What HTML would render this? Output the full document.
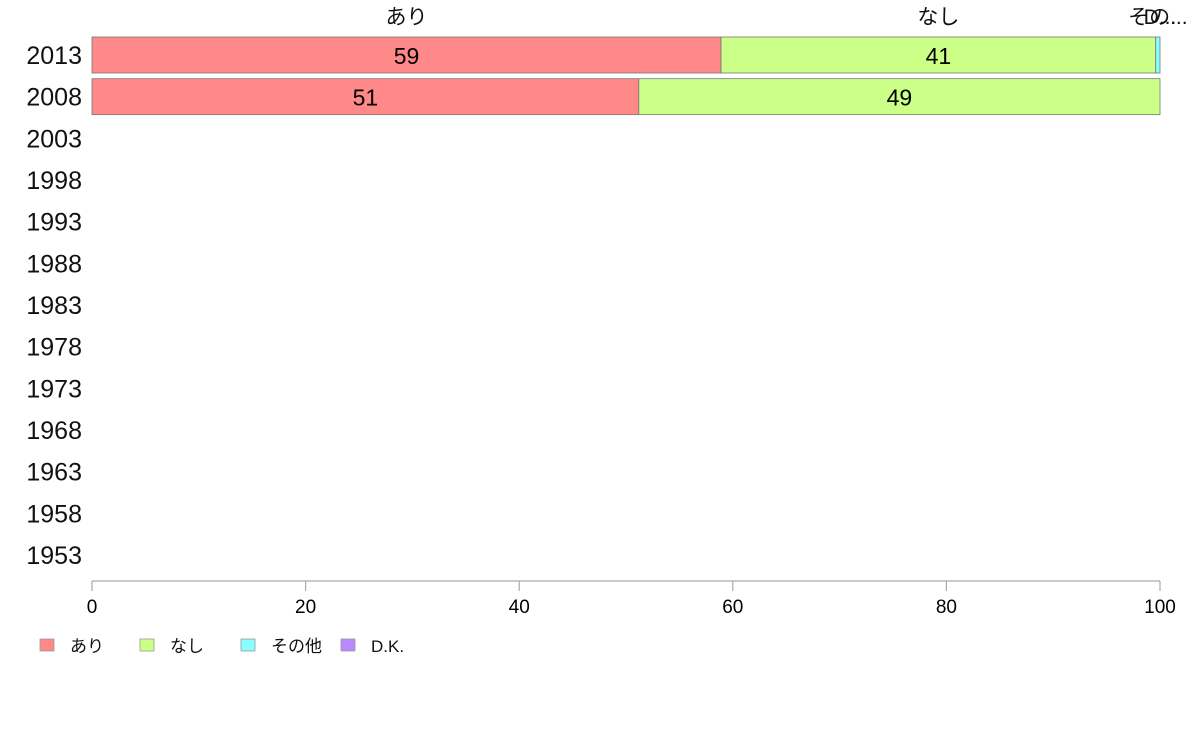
<!DOCTYPE html>
<html><head><meta charset="utf-8"><style>
body{margin:0;background:#fff;}
svg{font-family:"Liberation Sans","Noto Sans CJK JP",sans-serif;}
</style></head><body>
<svg width="1188" height="736">
<g id="plot"></g>
</svg>
<script>
const years=["2013","2008","2003","1998","1993","1988","1983","1978","1973","1968","1963","1958","1953"];
const seriesNames=["あり","なし","その他","D.K."];
const seriesColors=["#ff8888","#ccff88","#88ffff","#bb88ff"];
const aari=[58.9,51.2,null,null,null,null,null,null,null,null,null,null,null];
const nashi=[40.7,48.8,null,null,null,null,null,null,null,null,null,null,null];
const sonota=[0.4,0,null,null,null,null,null,null,null,null,null,null,null];
const dk=[0,0,null,null,null,null,null,null,null,null,null,null,null];
const xTicks=[0,20,40,60,80,100];
const series=[aari,nashi,sonota,dk];
const NS="http://www.w3.org/2000/svg";
const g=document.getElementById('plot');
const x=v=>92+v*10.68;
const y=i=>55+i*41.67;
function mk(t,a,txt){const e=document.createElementNS(NS,t);for(const k in a)e.setAttribute(k,a[k]);if(txt!==undefined)e.textContent=txt;g.appendChild(e);return e;}
// year labels
years.forEach((yr,i)=>{const e=mk('text',{x:82,y:y(i)+9,'text-anchor':'end','font-size':25,fill:'#111'},yr);

});
// bars
years.forEach((yr,i)=>{let c=0;series.forEach((s,k)=>{const v=s[i];if(v==null)return;
if(v>0){const r=mk('rect',{x:x(c),y:y(i)-18,width:x(c+v)-x(c),height:36,fill:seriesColors[k],stroke:'#777','stroke-width':0.8});


if(v>=5){const t=mk('text',{x:(x(c)+x(c+v))/2,y:y(i)+9,'text-anchor':'middle','font-size':23,fill:'#000'},Math.round(v));

}}
c+=v;});});
// top category labels from first row
{let c=0;const lbl=["あり","なし","その...","D..."];series.forEach((s,k)=>{const v=s[0];const t=mk('text',{x:(x(c)+x(c+v))/2,y:24,'text-anchor':'middle','font-size':21,fill:'#111'},lbl[k]);

c+=v;});}
// axis
const ax=mk('line',{x1:x(0),x2:x(100),y1:581,y2:581,stroke:'#aaa','stroke-width':1.2});


xTicks.forEach(v=>{const l=mk('line',{x1:x(v),x2:x(v),y1:581,y2:591,stroke:'#aaa','stroke-width':1.2});


const t=mk('text',{x:x(v),y:613,'text-anchor':'middle','font-size':19,fill:'#000'},v);

});
// legend
const lx=[40,140,241,341];
seriesNames.forEach((n,k)=>{const r=mk('rect',{x:lx[k],y:639,width:14,height:12,fill:seriesColors[k],stroke:'#999','stroke-width':0.8});


const t=mk('text',{x:lx[k]+30,y:652,'font-size':17,fill:'#111'},n);

});
</script>
</body></html>
